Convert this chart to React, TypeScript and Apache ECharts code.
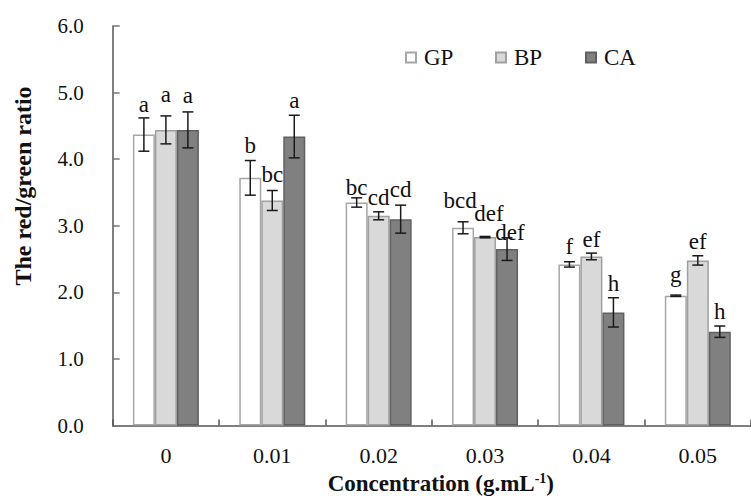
import React, { useEffect, useRef } from "react";
import * as echarts from "echarts";

const categories = ["0", "0.01", "0.02", "0.03", "0.04", "0.05"];
const gpValues = [4.37, 3.72, 3.35, 2.97, 2.42, 1.95];
const gpErrors = [0.25, 0.26, 0.07, 0.09, 0.04, 0.01];
const gpLetters = ["a", "b", "bc", "bcd", "f", "g"];
const bpValues = [4.44, 3.38, 3.15, 2.83, 2.54, 2.48];
const bpErrors = [0.21, 0.15, 0.06, 0.01, 0.05, 0.07];
const bpLetters = ["a", "bc", "cd", "def", "ef", "ef"];
const caValues = [4.44, 4.34, 3.1, 2.65, 1.7, 1.41];
const caErrors = [0.27, 0.32, 0.21, 0.17, 0.22, 0.085];
const caLetters = ["a", "a", "cd", "def", "h", "h"];
const yTicks = [0, 1, 2, 3, 4, 5, 6];

const FONT = "'Liberation Serif', 'Times New Roman', serif";
const BAR_W = 22;

export default function App() {
  const ref = useRef<HTMLDivElement>(null);
  useEffect(() => {
    if (!ref.current) return;
    const chart = echarts.init(ref.current, null, { renderer: "svg" });

    // layout only: pixel gap between error-bar top and letter baseline
    const labelLift = [
      [7, 9, 4, 15, 9, 14],
      [15, 10, 8, 16, 7, 8],
      [10, 8, 9, -1, 8, 8],
    ];
    // layout only: horizontal nudge of crowded letters
    const labelShift = [
      [0, 0, 0, -3, 0, 0],
      [0, 0, 0, 4, 0, 0],
      [0, 0, 0, 3, 0, 0],
    ];

    const groups = [
      { name: "GP", values: gpValues, errors: gpErrors, letters: gpLetters, fill: "#ffffff", border: "#a6a6a6" },
      { name: "BP", values: bpValues, errors: bpErrors, letters: bpLetters, fill: "#d9d9d9", border: "#a0a0a0" },
      { name: "CA", values: caValues, errors: caErrors, letters: caLetters, fill: "#808080", border: "#606060" },
    ];

    const barSeries = groups.map((g) => ({
      name: g.name,
      type: "bar",
      barWidth: BAR_W,
      barGap: "0%",
      data: g.values,
      itemStyle: { color: g.fill, borderColor: g.border, borderWidth: 1.5 },
    }));

    const errSeries = groups.map((g, si) => ({
      name: g.name + " error",
      type: "custom",
      data: g.values.map((v, i) => [i, v, g.errors[i]]),
      z: 5,
      renderItem: (params: any, api: any) => {
        const ci = api.value(0);
        const v = api.value(1);
        const e = api.value(2);
        const offset = (si - 1) * BAR_W;
        const x = api.coord([ci, v])[0] + offset;
        const yTop = api.coord([ci, v + e])[1];
        const yBot = api.coord([ci, v - e])[1];
        const hw = 5.5;
        const ls = { stroke: "#1a1a1a", lineWidth: 1.5 };
        const lift = labelLift[si][params.dataIndex];
        const shift = labelShift[si][params.dataIndex];
        return {
          type: "group",
          children: [
            { type: "line", shape: { x1: x, y1: yTop, x2: x, y2: yBot }, style: ls },
            { type: "line", shape: { x1: x - hw, y1: yTop, x2: x + hw, y2: yTop }, style: ls },
            { type: "line", shape: { x1: x - hw, y1: yBot, x2: x + hw, y2: yBot }, style: ls },
            {
              type: "text",
              x: x + shift,
              y: yTop - lift - 6.5,
              style: {
                text: g.letters[params.dataIndex],
                fontSize: 23,
                lineHeight: 13,
                fontFamily: FONT,
                fill: "#111111",
                align: "center",
                verticalAlign: "middle",
              },
            },
          ],
        };
      },
    }));

    const legendLefts = [405, 495, 585];
    const legends = groups.map((g, i) => ({
      data: [g.name],
      left: legendLefts[i],
      top: 46,
      padding: 0,
      itemWidth: 10,
      itemHeight: 10,
      icon: "rect",
      selectedMode: false,
      textStyle: { fontSize: 23, fontFamily: FONT, color: "#111111", padding: [0, 0, 0, 3] },
    }));

    chart.setOption({
      animation: false,
      backgroundColor: "#ffffff",
      legend: legends,
      grid: { left: 112.7, top: 26, width: 645.6, height: 407, containLabel: false },
      xAxis: {
        type: "category",
        data: categories,
        boundaryGap: true,
        axisLine: { show: true, lineStyle: { color: "#555555", width: 1.5 } },
        axisTick: { show: true, inside: true, length: 6, lineStyle: { color: "#555555", width: 1.5 } },
        axisLabel: { fontSize: 22, fontFamily: FONT, color: "#111111", margin: 19 },
        name: "Concentration (g.mL{sup|-1})",
        nameLocation: "middle",
        nameGap: 43,
        nameTextStyle: {
          fontSize: 23,
          fontFamily: FONT,
          fontWeight: "bold",
          color: "#111111",
          padding: [0, 0, 0, 18],
          rich: {
            sup: { fontSize: 14, fontFamily: FONT, fontWeight: "bold", color: "#111111", verticalAlign: "top", padding: [0, 0, 10, 0] },
          },
        },
      },
      yAxis: {
        type: "value",
        min: yTicks[0],
        max: yTicks[yTicks.length - 1],
        interval: 1,
        splitLine: { show: false },
        axisLine: { show: true, lineStyle: { color: "#555555", width: 1.5 } },
        axisTick: { show: true, inside: true, length: 7, lineStyle: { color: "#777777", width: 1.5 } },
        axisLabel: {
          fontSize: 21,
          fontFamily: FONT,
          color: "#111111",
          margin: 29,
          formatter: (v: number) => v.toFixed(1),
        },
      },
      graphic: [
        {
          type: "text",
          x: 23,
          y: 186,
          rotation: Math.PI / 2,
          style: {
            text: "The red/green ratio",
            fontSize: 24,
            fontWeight: "bold",
            fontFamily: FONT,
            fill: "#111111",
            align: "center",
            verticalAlign: "middle",
          },
        },
      ],
      series: [...barSeries, ...errSeries],
    });

    return () => {
      chart.dispose();
    };
  }, []);

  return (
    <div
      ref={ref}
      style={{ position: "fixed", left: 0, top: 0, width: 751, height: 500, background: "#fff" }}
    />
  );
}
